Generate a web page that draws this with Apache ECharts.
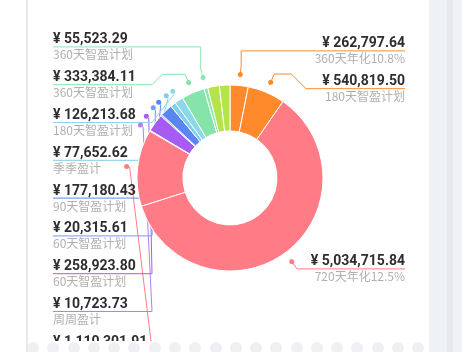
<!DOCTYPE html>
<html>
<head>
<meta charset="utf-8">
<script src="https://cdn.jsdelivr.net/npm/echarts@6/dist/echarts.min.js"></script>
<style>
  html, body { margin:0; padding:0; width:462px; height:352px; overflow:hidden; background:#fff; }
  #chart { position:absolute; left:0; top:0; width:462px; height:390px; }
  .lborder { position:absolute; left:26px; top:0; width:2px; height:352px; background:#e6e8ec; }
  .rpanel { position:absolute; left:429px; top:0; width:33px; height:352px; background:#eef1f5; }
  .rstrip { position:absolute; left:447px; top:0; width:6px; height:352px; background:#e5e9ee; }
  .band { position:absolute; left:28px; top:341px; width:401px; height:11px; background:#fff; overflow:hidden; }
  .dot { position:absolute; top:1px; width:12px; height:12px; border-radius:6px; background:#eef0f4; }
</style>
</head>
<body>
<div class="lborder"></div>
<div id="chart"></div>
<div class="band" id="band"></div>
<div class="rpanel"></div>
<div class="rstrip"></div>
<script>
// ---- data (clockwise from 12 o'clock) ----
const values = [262797.64, 540819.50, 5034715.84, 1110301.91, 10723.73, 258923.80, 20315.61, 177180.43, 77652.62, 126213.68, 333384.11, 55523.29, 168000, 152000];
const subLabels = ['360天年化10.8%', '180天智盈计划', '720天年化12.5%', '30天智盈计划', '周周盈计', '60天智盈计划', '60天智盈计划', '90天智盈计划', '季季盈计', '180天智盈计划', '360天智盈计划', '360天智盈计划', '', ''];
const colors = ['#FF8A2B', '#FF8A2B', '#FF7B86', '#FF7B86', '#B67DF6', '#A65CF3', '#6F9CF6', '#5A86F2', '#7ECFEC', '#8AD8E8', '#86E3A9', '#8DE5B2', '#B4E34A', '#B4E34A'];
const showLabel = [true, true, true, true, true, true, true, true, true, true, true, true, false, false];

const CX = 230, CY = 178, R_IN = 47, R_OUT = 93;
const VIEW_TOP = 28, VIEW_H = 342, VIEW_W = 458;
const LABEL_STEP = 37.8;

function fmt(v) {
  return '¥ ' + v.toLocaleString('en-US', { minimumFractionDigits: 2, maximumFractionDigits: 2 });
}

const mainData = values.map((v, i) => ({
  value: v,
  name: subLabels[i] || ('n' + i),
  itemStyle: { color: colors[i] },
  label: { show: showLabel[i] },
  labelLine: { show: showLabel[i] }
}));

const dotData = values.map((v, i) => ({
  value: v,
  name: 'd' + i,
  label: {
    show: showLabel[i],
    position: 'inside',
    formatter: '{a|}',
    rich: { a: { width: 5, height: 5, borderRadius: 2.5, backgroundColor: colors[i] } }
  }
}));

// label balancing (cluster based) computed from the first render's geometry
const store = {};
let targets = null;

function computeTargets() {
  const res = {};
  [true, false].forEach(side => {
    const items = Object.keys(store).map(k => ({ idx: +k, ...store[k] })).filter(o => o.isLeft === side);
    items.sort((a, b) => a.origY - b.origY);
    let clusters = items.map(o => ({ items: [o], center: o.origY }));
    let merged = true;
    while (merged) {
      merged = false;
      for (let i = 0; i < clusters.length - 1; i++) {
        const a = clusters[i], b = clusters[i + 1];
        const aBottom = a.center + a.items.length * LABEL_STEP / 2;
        const bTop = b.center - b.items.length * LABEL_STEP / 2;
        if (bTop < aBottom) {
          const all = a.items.concat(b.items);
          const c = all.reduce((s, o) => s + o.origY, 0) / all.length;
          clusters.splice(i, 2, { items: all, center: c });
          merged = true;
          break;
        }
      }
    }
    clusters.forEach(c => {
      const size = c.items.length * LABEL_STEP;
      let top = c.center - size / 2;
      if (top < VIEW_TOP) top = VIEW_TOP;
      if (top + size > VIEW_TOP + VIEW_H) top = VIEW_TOP + VIEW_H - size;
      c.items.forEach((o, k) => { res[o.idx] = top + LABEL_STEP * (k + 0.5); });
    });
  });
  return res;
}

function layoutFn(p) {
  const pts = p.labelLinePoints;
  if (!pts) return {};
  const r = p.labelRect;
  const isLeft = r.x + r.width / 2 < CX;
  const dx = pts[0][0] - CX, dy = pts[0][1] - CY;
  const len = Math.hypot(dx, dy) || 1;
  const ux = dx / len, uy = dy / len;
  const A = [CX + ux * (R_OUT + 8), CY + uy * (R_OUT + 8)];
  const I = [CX + ux * (R_OUT + 20), CY + uy * (R_OUT + 20)];
  const curY = r.y + r.height / 2;
  store[p.dataIndex] = { isLeft: isLeft, origY: I[1] };
  const ly = (targets && targets[p.dataIndex] != null) ? targets[p.dataIndex] : curY;
  const endX = isLeft ? r.x : r.x + r.width;
  const innerX = isLeft ? 152 : 306;
  let points;
  if (ly <= I[1] + 0.5) {
    points = [A, I, [I[0], ly], [endX, ly]];
  } else {
    const d = ly - I[1];
    const kx = isLeft ? innerX + d : innerX - d;
    if (isLeft ? kx <= I[0] : kx >= I[0]) {
      points = [A, I, [kx, I[1]], [innerX, ly], [endX, ly]];
    } else {
      points = [A, [innerX, ly], [endX, ly]];
    }
  }
  return { labelLinePoints: points, dy: ly - curY };
}

function buildOption() {
  return {
    animation: false,
    series: [
      {
        type: 'pie',
        left: 0, top: VIEW_TOP, width: VIEW_W, height: VIEW_H,
        center: [CX, CY - VIEW_TOP],
        radius: [R_IN, R_OUT],
        startAngle: 90,
        clockwise: true,
        avoidLabelOverlap: true,
        silent: true,
        itemStyle: { borderColor: '#fff', borderWidth: 1 },
        label: {
          alignTo: 'edge',
          edgeDistance: 53,
          overflow: 'none',
          minMargin: 5.4,
          formatter: function (p) {
            return '{v|' + fmt(values[p.dataIndex]) + '}\n{s|' + subLabels[p.dataIndex] + '}';
          },
          rich: {
            v: { fontFamily: 'Roboto', fontWeight: 'bold', fontSize: 14, lineHeight: 15, color: '#2e2e2e' },
            s: { fontFamily: 'Noto Sans CJK SC', fontSize: 12, lineHeight: 15, color: '#b0b0b0' }
          }
        },
        labelLine: { show: true, length: 20, length2: 0, lineStyle: { width: 1 } },
        labelLayout: layoutFn,
        data: mainData
      },
      {
        type: 'pie',
        left: 0, top: VIEW_TOP, width: VIEW_W, height: VIEW_H,
        center: [CX, CY - VIEW_TOP],
        radius: [R_OUT + 7, R_OUT + 9],
        startAngle: 90,
        clockwise: true,
        avoidLabelOverlap: false,
        silent: true,
        itemStyle: { color: 'rgba(0,0,0,0)', borderWidth: 0 },
        labelLine: { show: false },
        data: dotData
      }
    ]
  };
}

const chart = echarts.init(document.getElementById('chart'), null, { renderer: 'canvas' });
chart.setOption(buildOption());
targets = computeTargets();
chart.setOption(buildOption(), true);

// decorative bottom dots of the card edge
const band = document.getElementById('band');
for (let i = 0; i < 20; i++) {
  const d = document.createElement('div');
  d.className = 'dot';
  d.style.left = (33 + i * 20.28 - 6 - 28) + 'px';
  band.appendChild(d);
}
</script>
</body>
</html>
